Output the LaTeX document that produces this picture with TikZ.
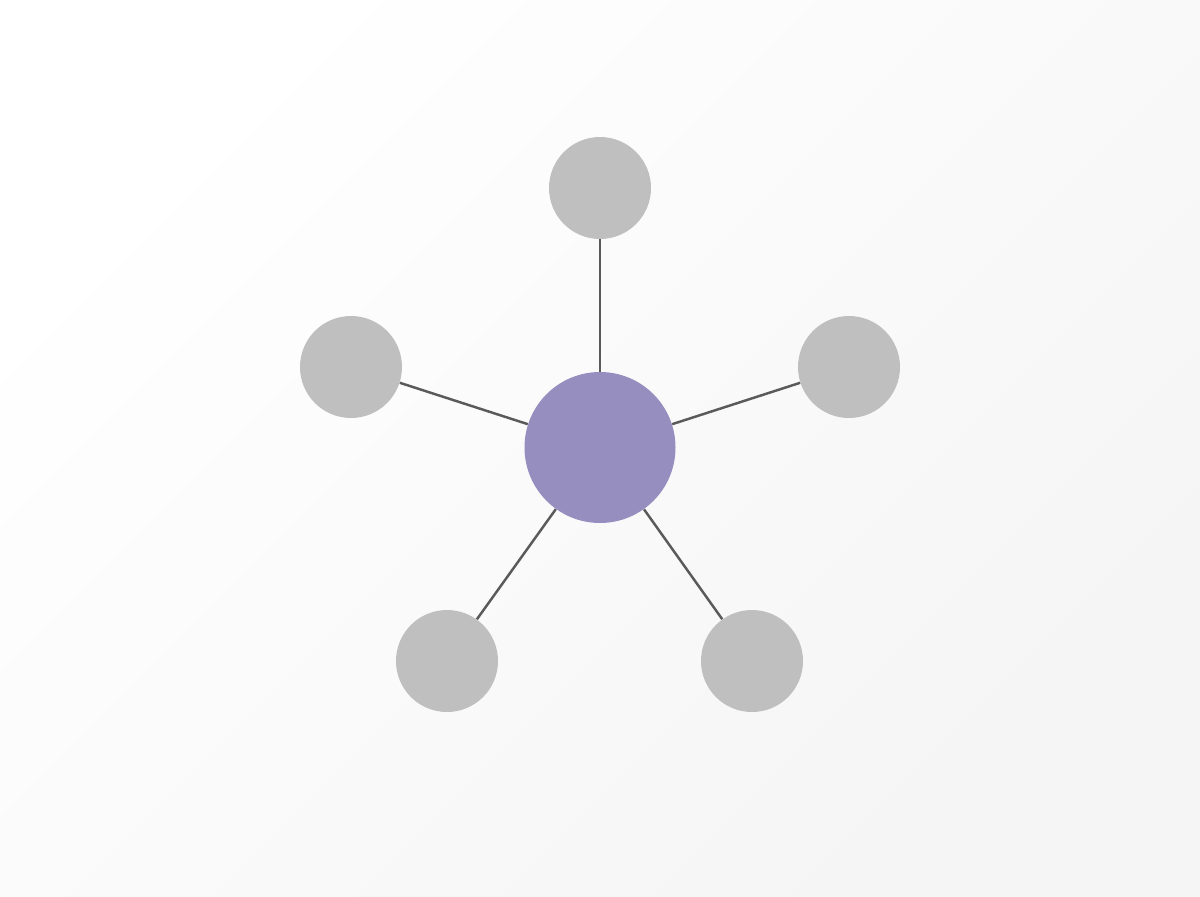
\documentclass[tikz,border=0pt]{standalone}
\usepackage{tikz}
\usetikzlibrary{positioning, calc}

\definecolor{hubcol}{HTML}{958EBE}
\definecolor{leafcol}{HTML}{BFBFBF}
\definecolor{edgecol}{HTML}{5A5A5A}

\begin{document}
\begin{tikzpicture}[hub/.style={circle, fill=hubcol, minimum size=3.02cm, inner sep=0pt},
                leaf/.style={circle, fill=leafcol, minimum size=2.04cm, inner sep=0pt},
                spoke/.style={draw=edgecol, line width=1.4pt}]
                % background
                \shade[shading=axis, top color=white, bottom color=black!4, shading angle=45]
                    (-12,-8.97) rectangle (12,8.95);
                \useasboundingbox (-12,-8.97) rectangle (12,8.95);

                \node[hub] (c) at (0,0) {};
                \node[leaf] (top) at (0,5.19) {};
                \node[leaf] (left) at (-4.98,1.61) {};
                \node[leaf] (right) at (4.98,1.61) {};
                \node[leaf] (bl) at (-3.06,-4.27) {};
                \node[leaf] (br) at (3.04,-4.27) {};

                \draw[spoke] (c) -- (top);
                \draw[spoke] (c) -- (left);
                \draw[spoke] (c) -- (right);
                \draw[spoke] (c) -- (bl);
                \draw[spoke] (c) -- (br);
            \end{tikzpicture}
\end{document}
